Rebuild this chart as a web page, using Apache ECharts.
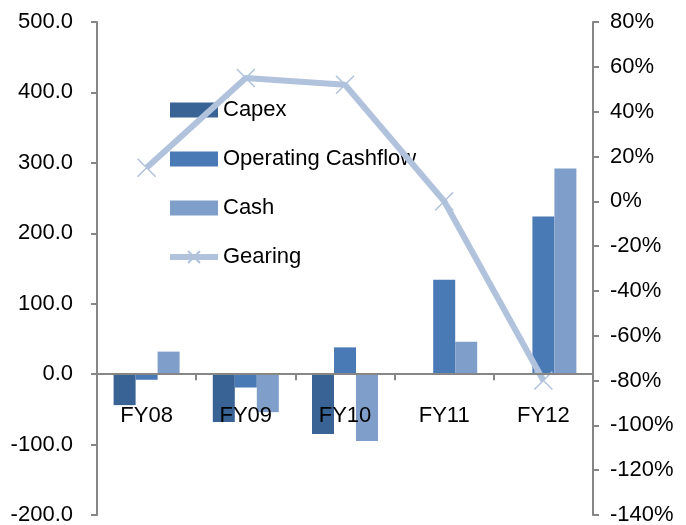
<!DOCTYPE html>
<html>
<head>
<meta charset="utf-8">
<script src="https://cdn.jsdelivr.net/npm/echarts@6/dist/echarts.min.js"></script>
<style>
  html, body { margin: 0; padding: 0; background: #fff; }
  #chart { width: 686px; height: 525px; }
</style>
</head>
<body>
<div id="chart"></div>
<script>
// Fiscal years on the category axis
const years = ['FY08', 'FY09', 'FY10', 'FY11', 'FY12'];

// Cash-flow figures (left axis)
const capex = [-44, -68, -85, 0, 0];
const operatingCashflow = [-8, -19, 38, 134, 224];
const cash = [32, -54, -95, 46, 292];

// Gearing ratio in percent (right axis)
const gearing = [15, 55, 52, 0, -80];

// Axis ranges and steps
const leftMin = -200, leftMax = 500, leftStep = 100;
const rightMin = -140, rightMax = 80, rightStep = 20;

const axisGrey = '#868686';
const fontFamily = 'Liberation Sans, Arial, sans-serif';
const labelSize = 22;

// Plot area
const gridTop = 22, gridBottom = 10, chartHeight = 525;
const plotHeight = chartHeight - gridTop - gridBottom;
// Category labels sit just under the zero line of the left axis
const zeroOffset = -((0 - leftMin) / (leftMax - leftMin)) * plotHeight;

const chart = echarts.init(document.getElementById('chart'), null, { renderer: 'canvas' });

const crossSymbol = 'path://M0,0L10,10M10,0L0,10';

chart.setOption({
  animation: false,
  backgroundColor: '#ffffff',
  textStyle: { fontFamily: fontFamily },
  grid: { left: 97, right: 93, top: gridTop, bottom: gridBottom, containLabel: false, outerBoundsMode: 'none' },
  legend: {
    orient: 'vertical',
    left: 162,
    top: 94,
    itemWidth: 48,
    itemHeight: 15,
    itemGap: 27,
    textStyle: { fontSize: labelSize, color: '#000', fontFamily: fontFamily, lineHeight: 22 },
    data: [
      { name: 'Capex', icon: 'rect' },
      { name: 'Operating Cashflow', icon: 'rect' },
      { name: 'Cash', icon: 'rect' },
      { name: 'Gearing', lineStyle: { width: 6, color: '#B0C2DC' } }
    ]
  },
  xAxis: [
    {
      // zero line with boundary ticks
      type: 'category',
      data: years,
      z: 10,
      axisLine: { onZero: true, lineStyle: { color: axisGrey, width: 2 } },
      axisTick: { show: true, alignWithLabel: false, length: 6, lineStyle: { color: axisGrey, width: 2 } },
      axisLabel: { show: false },
      splitLine: { show: false }
    },
    {
      // category names, drawn above the bars
      type: 'category',
      data: years,
      position: 'bottom',
      offset: zeroOffset,
      z: 10,
      axisLine: { show: false, onZero: false },
      axisTick: { show: false },
      axisLabel: { margin: 31, fontSize: labelSize, color: '#000', fontFamily: fontFamily },
      splitLine: { show: false }
    }
  ],
  yAxis: [
    {
      type: 'value',
      min: leftMin, max: leftMax, interval: leftStep,
      position: 'left',
      axisLine: { show: true, onZero: false, lineStyle: { color: axisGrey, width: 2 } },
      axisTick: { show: true, length: 6, lineStyle: { color: axisGrey, width: 2 } },
      axisLabel: {
        margin: 24, fontSize: labelSize, color: '#000', fontFamily: fontFamily,
        formatter: v => v.toFixed(1)
      },
      splitLine: { show: false }
    },
    {
      type: 'value',
      min: rightMin, max: rightMax, interval: rightStep,
      position: 'right',
      axisLine: { show: true, onZero: false, lineStyle: { color: axisGrey, width: 2 } },
      axisTick: { show: true, length: 6, lineStyle: { color: axisGrey, width: 2 } },
      axisLabel: {
        margin: 17, fontSize: labelSize, color: '#000', fontFamily: fontFamily,
        formatter: v => v + '%'
      },
      splitLine: { show: false }
    }
  ],
  series: [
    {
      name: 'Capex', type: 'bar', yAxisIndex: 0,
      data: capex, barWidth: 22, barGap: '0%', barCategoryGap: '31%',
      itemStyle: { color: '#3A6395' }
    },
    {
      name: 'Operating Cashflow', type: 'bar', yAxisIndex: 0,
      data: operatingCashflow, barWidth: 22, barGap: '0%',
      itemStyle: { color: '#4A7AB5' }
    },
    {
      name: 'Cash', type: 'bar', yAxisIndex: 0,
      data: cash, barWidth: 22, barGap: '0%',
      itemStyle: { color: '#7F9EC9' }
    },
    {
      name: 'Gearing', type: 'line', yAxisIndex: 1,
      data: gearing,
      z: 5,
      symbol: crossSymbol, symbolSize: 18, showAllSymbol: true,
      lineStyle: { color: '#B0C2DC', width: 6 },
      itemStyle: { color: 'rgba(0,0,0,0)', borderColor: '#B0C2DC', borderWidth: 1.5 }
    }
  ]
});
</script>
</body>
</html>
